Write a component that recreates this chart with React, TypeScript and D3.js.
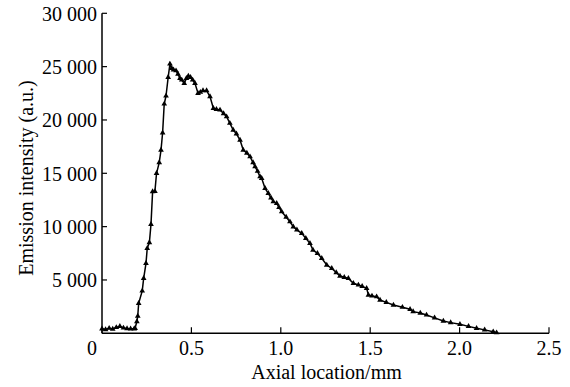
import React from "react";
import * as d3 from "d3";

const xValues: number[] = [
  0.0, 0.02, 0.04, 0.06, 0.08, 0.1, 0.12, 0.14, 0.16, 0.18, 0.185, 0.195, 0.2, 0.205, 0.225,
  0.233, 0.246, 0.253, 0.265, 0.274, 0.283, 0.296, 0.305, 0.32, 0.33, 0.339, 0.348, 0.358,
  0.37, 0.38, 0.39, 0.4, 0.414, 0.425, 0.436, 0.446, 0.46, 0.472, 0.483, 0.495, 0.507, 0.52,
  0.537, 0.55, 0.565, 0.585, 0.604, 0.623, 0.64, 0.66, 0.68, 0.697, 0.715, 0.734, 0.752,
  0.772, 0.79, 0.81, 0.828, 0.845, 0.856, 0.87, 0.884, 0.893, 0.912, 0.93, 0.945, 0.958,
  0.977, 0.99, 1.005, 1.03, 1.051, 1.07, 1.09, 1.117, 1.14, 1.163, 1.18, 1.205, 1.229, 1.257,
  1.285, 1.31, 1.331, 1.355, 1.378, 1.406, 1.434, 1.455, 1.48, 1.49, 1.51, 1.536, 1.555,
  1.59, 1.63, 1.68, 1.723, 1.74, 1.78, 1.815, 1.86, 1.909, 1.95, 2.002, 2.05, 2.095, 2.14,
  2.188, 2.207,
];

const intensityValues: number[] = [
  420, 350, 480, 400, 550, 650, 500, 450, 420, 420, 470, 1100, 1620, 2810, 3970,
  5150, 6560, 7970, 8500, 10220, 13280, 13300, 15000, 16000, 17180, 18800, 21500, 22250,
  24000, 25250, 24840, 24700, 24620, 24300, 23900, 23750, 23440, 23900, 24120, 24000, 23750, 23440,
  22500, 22600, 22750, 22750, 22190, 21090, 21000, 20940, 20600, 20310, 19700, 19060, 18700,
  18120, 17180, 16900, 16560, 16000, 15620, 15200, 14680, 14530, 13590, 13120, 12700, 12340,
  12190, 11800, 11400, 10900, 10460, 9990, 9700, 9370, 8900, 8440, 7810, 7500, 7030, 6400,
  6090, 5700, 5370, 5250, 5150, 4690, 4530, 4400, 4220, 3590, 3500, 3430, 3120,
  2900, 2650, 2450, 2250, 2030, 1900, 1720, 1450, 1150, 1000, 840, 650, 470, 320,
  150, 60,
];

const xTicks: number[] = [0, 0.5, 1.0, 1.5, 2.0, 2.5];
const xTickLabels: string[] = ["0", "0.5", "1.0", "1.5", "2.0", "2.5"];
const yTicks: number[] = [5000, 10000, 15000, 20000, 25000, 30000];
const yTickLabels: string[] = ["5 000", "10 000", "15 000", "20 000", "25 000", "30 000"];

const xTitle = "Axial location/mm";
const yTitle = "Emission intensity (a.u.)";

export default function App() {
  const W = 570;
  const H = 387;
  const x = d3.scaleLinear().domain([0, 2.5]).range([102, 549]);
  const y = d3.scaleLinear().domain([0, 30000]).range([333.3, 13.3]);
  const data = xValues.map((v, i) => [v, intensityValues[i]] as [number, number]);
  const line = d3
    .line<[number, number]>()
    .x((d) => x(d[0]))
    .y((d) => y(d[1]));
  const tri = d3.symbol().type(d3.symbolTriangle).size(14)() as string;
  const ts: React.CSSProperties = { fontFamily: '"Liberation Serif", "Times New Roman", Times, serif', fontSize: "20px" };
  const x0 = x(0);
  const y0 = y(0);

  return (
    <svg
      width={W}
      height={H}
      style={{ position: "absolute", left: 0, top: 0, background: "#fff" }}
    >
      {/* axes */}
      <line x1={x0} y1={y(30000)} x2={x0} y2={y0} stroke="#000" strokeWidth={1.5} />
      <line x1={x0} y1={y0} x2={x(2.5)} y2={y0} stroke="#000" strokeWidth={1.5} />
      {yTicks.map((t, i) => (
        <g key={"yt" + i}>
          <line x1={x0} x2={x0 + 5} y1={y(t)} y2={y(t)} stroke="#000" strokeWidth={1.2} />
          <text x={97} y={y(t)} dy="0.36em" textAnchor="end" style={ts}>
            {yTickLabels[i]}
          </text>
        </g>
      ))}
      {xTicks.map((t, i) => (
        <g key={"xt" + i}>
          <line x1={x(t)} x2={x(t)} y1={y0} y2={y0 - 6} stroke="#000" strokeWidth={1.2} />
          <text x={x(t) - (t === 0 ? 10 : 0)} y={355} textAnchor="middle" style={ts}>
            {xTickLabels[i]}
          </text>
        </g>
      ))}
      <text x={(x(0) + x(2.5)) / 2 + 1} y={379} textAnchor="middle" style={ts}>
        {xTitle}
      </text>
      <text transform={`translate(33, 178) rotate(-90)`} textAnchor="middle" style={ts}>
        {yTitle}
      </text>
      {/* data */}
      <path d={line(data) || ""} fill="none" stroke="#000" strokeWidth={1.5} />
      {data.map((d, i) => (
        <path key={"m" + i} d={tri} transform={`translate(${x(d[0])},${y(d[1])})`} fill="#000" />
      ))}
    </svg>
  );
}
